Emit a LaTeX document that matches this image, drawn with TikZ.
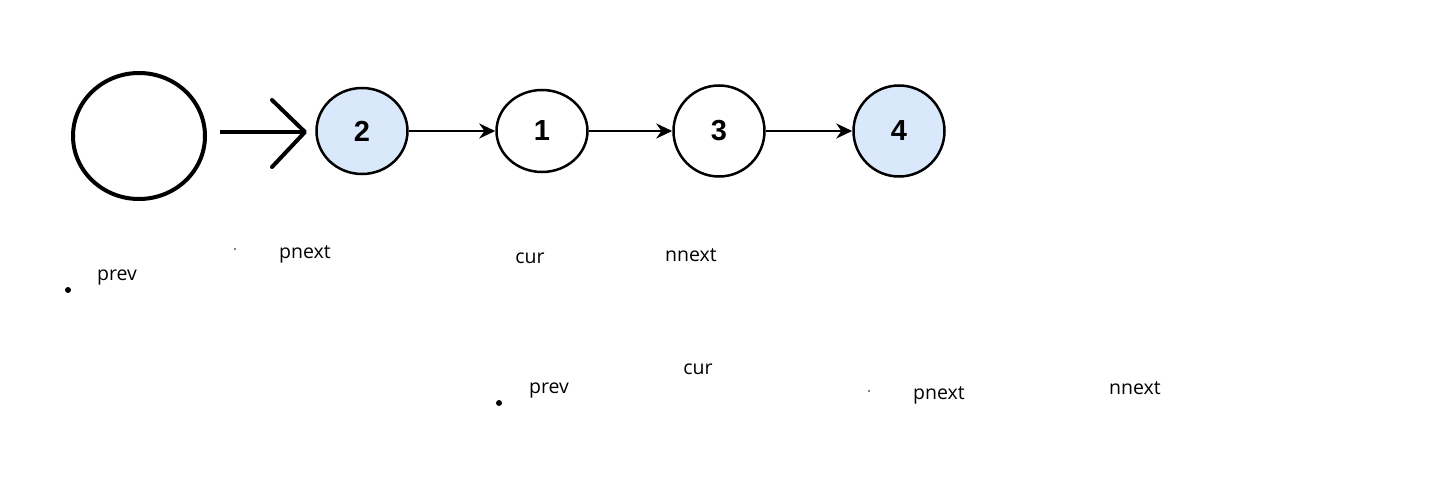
\documentclass[tikz,border=0pt]{standalone}
\usepackage{fontspec}
\setmainfont{Open Sans}
\newfontfamily\numfont{Liberation Sans}
\usetikzlibrary{arrows.meta,shapes.geometric}
\definecolor{nodeblue}{HTML}{DAE8FC}
\tikzset{
	elem/.style={ellipse, draw=black, line width=2.5pt, inner sep=0pt,
		font=\numfont\bfseries\fontsize{29}{31}\selectfont},
	lbl/.style={font=\fontsize{19.5}{22}\selectfont, inner sep=0pt},
	link/.style={line width=2.5pt, -{Stealth[length=16pt,width=15pt]}}
}
\begin{document}
\begin{tikzpicture}[x=1pt,y=-1pt]
	\useasboundingbox (0,0) rectangle (1437,484);

	% hand drawn part
	\draw[line width=4pt] (139,136) ellipse (66 and 63);
	\coordinate (S) at (220,132);
	\coordinate (P) at (305,132); % tip
	\draw[line width=4pt] (S)--(P);
	\draw[line width=4pt, line cap=round, line join=round] (272,100)--(P)--(272,167);

	% list
	\node[elem, fill=nodeblue, minimum width=91pt, minimum height=86pt] (n2) at (362,131) {2};
	\node[elem, fill=white, minimum width=91pt, minimum height=82pt] (n1) at (542,131) {1};
	\node[elem, fill=white, minimum width=91pt, minimum height=91pt] (n3) at (719,131) {3};
	\node[elem, fill=nodeblue, minimum width=91pt, minimum height=91pt] (n4) at (899,131) {4};

	\draw[link] (n2)--(n1);
	\draw[link] (n1)--(n3);
	\draw[link] (n3)--(n4);

	% first row of pointers
	\node[lbl] (prevA) at (117,278) {prev};
	\node[lbl] (pnextA) at (305,254) {pnext};
	\node[lbl] (curA) at (530,258) {cur};
	\node[lbl] (nnextA) at (691,255) {nnext};

	% second row of pointers
	\node[lbl] (prevB) at (549,391) {prev};
	\node[lbl] (curB) at (698,369) {cur};
	\node[lbl] (pnextB) at (939,395) {pnext};
	\node[lbl] (nnextB) at (1135,388) {nnext};

	\foreach \p in {(68,290),(499,403)}
		\fill \p circle (3pt);
	\foreach \p in {(235,249),(869,391)}
		\fill \p circle (0.8pt);
\end{tikzpicture}
\end{document}
